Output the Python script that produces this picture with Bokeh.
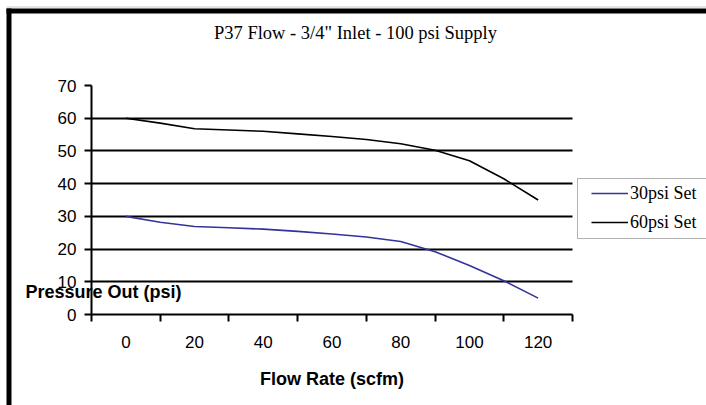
from bokeh.plotting import figure
from bokeh.models import (FixedTicker, Legend, LegendItem, BoxAnnotation, Label,
                          Range1d, LinearAxis)
from bokeh.embed import file_html
from bokeh.resources import INLINE

# ---- data ----
flow = [0, 10, 20, 30, 40, 50, 60, 70, 80, 90, 100, 110, 120]
set30 = [30, 28.2, 26.9, 26.5, 26.1, 25.4, 24.6, 23.7, 22.3, 19.2, 15.0, 10.3, 5.0]
set60 = [60, 58.5, 56.8, 56.4, 56.0, 55.2, 54.4, 53.5, 52.2, 50.2, 47.0, 41.5, 35.0]
x_labels = [0, 20, 40, 60, 80, 100, 120]
x_tick_marks = [-10, 10, 30, 50, 70, 90, 110, 130]
y_ticks = [0, 10, 20, 30, 40, 50, 60, 70]
y_grid = [10, 20, 30, 40, 50, 60]
series_names = ["30psi Set", "60psi Set"]
title_text = 'P37 Flow - 3/4" Inlet - 100 psi Supply'
x_title = "Flow Rate (scfm)"
y_title = "Pressure Out (psi)"

W, H = 706, 405
# plot box in pixels: x -10..130 -> 91..572 ; y 0..70 -> 314..85
PX_L, PX_R, PY_T, PY_B = 91, 572, 85, 314
XMIN, XMAX, YMIN, YMAX = -10, 130, 0, 70
sx = (PX_R - PX_L) / (XMAX - XMIN)
sy = (PY_B - PY_T) / (YMAX - YMIN)
x_range = Range1d(XMIN - PX_L / sx, XMAX + (W - PX_R) / sx)
y_range = Range1d(YMIN - (H - PY_B) / sy, YMAX + PY_T / sy)

p = figure(width=W, height=H, output_backend="svg", toolbar_location=None,
           x_range=x_range, y_range=y_range,
           x_axis_location=None, y_axis_location=None,
           min_border=0, min_border_left=0, min_border_right=0,
           min_border_top=0, min_border_bottom=0)
p.outline_line_color = None
p.background_fill_color = "white"
p.border_fill_color = "white"

# x axis (category-style: tick marks between the labels)
xa = LinearAxis(fixed_location=YMIN, bounds=(XMIN, XMAX))
xa.ticker = FixedTicker(ticks=x_labels, minor_ticks=x_tick_marks)
xa.major_tick_out = 0
xa.major_tick_in = 0
xa.minor_tick_out = 7
xa.minor_tick_in = 0
xa.minor_tick_line_width = 2
xa.minor_tick_line_color = "black"
xa.axis_line_width = 2
xa.axis_line_color = "black"
xa.major_label_text_font = "Liberation Sans"
xa.major_label_text_font_size = "17px"
xa.major_label_text_color = "black"
xa.major_label_standoff = 14
xa.axis_label = x_title
xa.axis_label_text_font = "Liberation Sans"
xa.axis_label_text_font_size = "18px"
xa.axis_label_text_font_style = "bold"
xa.axis_label_text_color = "black"
xa.axis_label_standoff = 18
p.add_layout(xa, "below")

# y axis
ya = LinearAxis(fixed_location=XMIN, bounds=(YMIN, YMAX))
ya.ticker = FixedTicker(ticks=y_ticks, minor_ticks=[])
ya.major_tick_out = 7
ya.major_tick_in = 0
ya.major_tick_line_width = 2
ya.major_tick_line_color = "black"
ya.axis_line_width = 2
ya.axis_line_color = "black"
ya.major_label_text_font = "Liberation Sans"
ya.major_label_text_font_size = "17px"
ya.major_label_text_color = "black"
ya.major_label_standoff = 8
p.add_layout(ya, "left")

# horizontal gridlines, limited to the plot box
p.xgrid.visible = False
p.ygrid.ticker = FixedTicker(ticks=y_grid)
p.ygrid.bounds = (YMIN, YMAX)
p.ygrid.cross_bounds = (XMIN, XMAX)
p.ygrid.grid_line_color = "black"
p.ygrid.grid_line_width = 2

# lines
r30 = p.line(flow, set30, line_color="#333399", line_width=1.6)
r60 = p.line(flow, set60, line_color="black", line_width=1.6)

# chart title
p.add_layout(Label(x=XMIN + (355 - PX_L) / sx, y=YMIN + (PY_B - 32) / sy,
                   text=title_text, text_font="Liberation Serif",
                   text_font_size="18.5px", text_align="center",
                   text_baseline="middle", text_color="black"))
# horizontal y-axis title, placed as in the original
p.add_layout(Label(x=XMIN + (25 - PX_L) / sx, y=YMIN + (PY_B - 291) / sy,
                   text=y_title, text_font="Liberation Sans",
                   text_font_size="18px", text_font_style="bold",
                   text_baseline="middle", text_align="left", text_color="black"))

# legend
legend = Legend(items=[LegendItem(label=series_names[0], renderers=[r30]),
                       LegendItem(label=series_names[1], renderers=[r60])],
                location=(587, H - 237), padding=4, spacing=7, glyph_height=22,
                label_height=22, glyph_width=37, label_standoff=2, margin=0,
                border_line_alpha=0, background_fill_alpha=0,
                label_text_font="Liberation Serif", label_text_font_size="18px",
                label_text_color="black")
p.add_layout(legend)

def canvas_box(l, r, t, b, **kw):
    return BoxAnnotation(left=l, right=r, top=t, bottom=b,
                         left_units="canvas", right_units="canvas",
                         top_units="canvas", bottom_units="canvas",
                         level="overlay", **kw)

# legend box (right side runs off the picture, as in the original)
p.add_layout(canvas_box(577, 740, 178, 238, fill_alpha=0,
                        line_color="black", line_width=1))
# thick outer frame (top and left) and thin grey edge above it
p.add_layout(canvas_box(6, 740, 6, 7, fill_color="#c8c8c8", fill_alpha=1, line_alpha=0))
p.add_layout(canvas_box(6, 11, 8, H + 10, fill_color="black", fill_alpha=1, line_alpha=0))
p.add_layout(canvas_box(6, 740, 8, 13, fill_color="black", fill_alpha=1, line_alpha=0))

open("out.html", "w").write(file_html(p, INLINE))
